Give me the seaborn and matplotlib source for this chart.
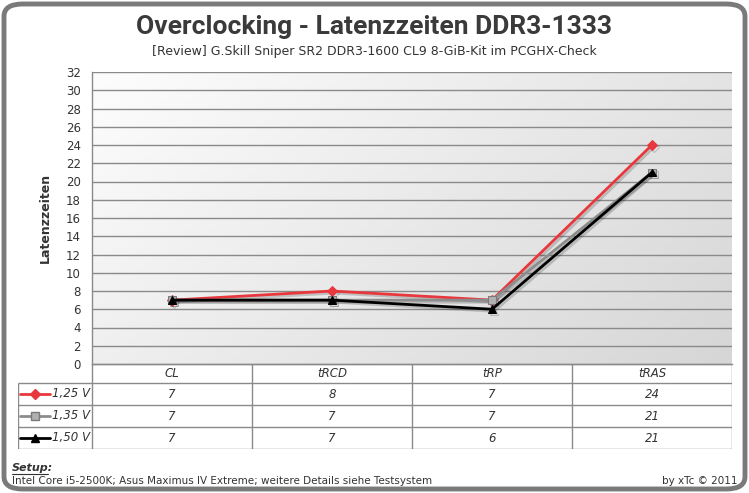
import numpy as np
import pandas as pd
import matplotlib
matplotlib.use("Agg")
import matplotlib.pyplot as plt
import matplotlib.patheffects as pe
from matplotlib.colors import LinearSegmentedColormap
from matplotlib.patches import FancyBboxPatch
import seaborn as sns

# data
timings = ["CL", "tRCD", "tRP", "tRAS"]
voltages = ["1,25 V", "1,35 V", "1,50 V"]
v125 = [7, 8, 7, 24]
v135 = [7, 7, 7, 21]
v150 = [7, 7, 6, 21]
yticks = list(range(0, 33, 2))

colors = {"1,25 V": "#e8383d", "1,35 V": "#8c8c8c", "1,50 V": "#000000"}
markers = {"1,25 V": "D", "1,35 V": "s", "1,50 V": "^"}
mfaces = {"1,25 V": "#e8383d", "1,35 V": "#b0b0b0", "1,50 V": "#000000"}
medges = {"1,25 V": "#e8383d", "1,35 V": "#7a7a7a", "1,50 V": "#000000"}

df = pd.DataFrame({
    "Timing": timings * 3,
    "Spannung": [v for v in voltages for _ in timings],
    "Wert": v125 + v135 + v150,
})

sns.set_theme(style="white")
plt.rcParams["font.family"] = ["DejaVu Sans"]

W, H = 749, 493
fig = plt.figure(figsize=(W / 100, H / 100), dpi=100)
fig.patch.set_facecolor("white")

def fx(px):
    return px / W

def fy(py):
    return 1 - py / H

# rounded outer frame
frame = FancyBboxPatch((fx(4), fy(489)), fx(741), 485 / H,
                       boxstyle="round,pad=0,rounding_size=0.025",
                       transform=fig.transFigure, facecolor="none",
                       edgecolor="#7a7a7a", linewidth=3.5, zorder=5)
fig.patches.append(frame)

# main plot area
ax = fig.add_axes([fx(92), fy(364), fx(640), 292 / H])
ax.set_facecolor("none")

grad_x, grad_y = np.meshgrid(np.linspace(0, 1, 200), np.linspace(0, 1, 200))
grad = 0.65 * grad_x + 0.35 * grad_y
cmap = LinearSegmentedColormap.from_list("bg", ["#fdfdfd", "#d6d6d6"])
ax.imshow(grad, extent=(-0.5, 3.5, 0, 32), origin="upper", aspect="auto",
          cmap=cmap, zorder=0, interpolation="bilinear")

sns.lineplot(data=df, x="Timing", y="Wert", hue="Spannung", style="Spannung",
             palette=colors, markers=markers, dashes=False, sort=False,
             linewidth=2.0, markersize=5.5, legend=False, ax=ax)

for line, v in zip(ax.get_lines(), voltages):
    line.set_markerfacecolor(mfaces[v])
    line.set_markeredgecolor(medges[v])
    line.set_path_effects([pe.SimpleLineShadow(offset=(1.5, -1.5), alpha=0.2),
                           pe.Normal()])

ax.set_xlim(-0.5, 3.5)
ax.set_ylim(0, 32)
ax.set_yticks(yticks)
ax.set_yticklabels([str(t) for t in yticks], fontsize=8.5, color="#333333")
ax.set_xticks([])
ax.tick_params(axis="y", length=0, pad=8)
ax.set_axisbelow(True)
ax.yaxis.grid(True, color="#8a8a8a", linewidth=1.0)
ax.xaxis.grid(False)
for s in ["top", "right"]:
    ax.spines[s].set_visible(False)
for s in ["left", "bottom"]:
    ax.spines[s].set_color("#8a8a8a")
    ax.spines[s].set_linewidth(1.0)
ax.set_xlabel("")
ax.set_ylabel("Latenzzeiten", fontsize=9, fontweight="bold", color="#333333",
              labelpad=10)

# data table under the plot
leg_w = 74 / 160
tab = fig.add_axes([fx(18), fy(449), fx(714), 85 / H])
tab.set_xlim(-0.5 - leg_w, 3.5)
tab.set_ylim(449, 364)
tab.axis("off")
gc = "#8a8a8a"
rows = [364, 383, 405, 427, 449]
tab.hlines(rows[0], -0.5, 3.5, color=gc, lw=1.0)
tab.hlines(rows[1:], -0.5 - leg_w, 3.5, color=gc, lw=1.0)
tab.vlines(-0.5 - leg_w, rows[1], rows[-1], color=gc, lw=1.0)
tab.vlines(np.arange(5) - 0.5, rows[0], rows[-1], color=gc, lw=1.0)

for i, t in enumerate(timings):
    tab.text(i, (rows[0] + rows[1]) / 2, t, ha="center", va="center",
             style="italic", fontsize=8.5, color="#333333")

for r, (v, vals) in enumerate(zip(voltages, [v125, v135, v150])):
    yc = (rows[r + 1] + rows[r + 2]) / 2
    x0 = -0.5 - leg_w
    tab.plot([x0 + 0.01, x0 + 0.2], [yc, yc], color=colors[v], lw=2.0)
    tab.plot([x0 + 0.105], [yc], marker=markers[v], color=mfaces[v],
             markeredgecolor=medges[v], markersize=5.5)
    tab.text(x0 + 0.21, yc, v, ha="left", va="center", style="italic",
             fontsize=8.5, color="#333333")
    for i, val in enumerate(vals):
        tab.text(i, yc, str(val), ha="center", va="center", style="italic",
                 fontsize=8.5, color="#333333")

# titles and footer
fig.text(0.5, fy(27), "Overclocking - Latenzzeiten DDR3-1333", ha="center",
         va="center", fontsize=19, fontweight="bold", color="#3a3a3a",
         family=["Roboto", "DejaVu Sans"])
fig.text(0.5, fy(51), "[Review] G.Skill Sniper SR2 DDR3-1600 CL9 8-GiB-Kit im PCGHX-Check",
         ha="center", va="center", fontsize=9, color="#333333")
fig.text(fx(12), fy(468), "Setup:", ha="left", va="center", fontsize=8,
         fontweight="bold", style="italic", color="#333333")
fig.add_artist(plt.Line2D([fx(12), fx(48)], [fy(474), fy(474)],
                          color="#333333", lw=0.8))
fig.text(fx(12), fy(481), "Intel Core i5-2500K; Asus Maximus IV Extreme; weitere Details siehe Testsystem",
         ha="left", va="center", fontsize=7.5, color="#333333")
fig.text(fx(738), fy(481), "by xTc \u00a9 2011", ha="right", va="center",
         fontsize=7.5, color="#333333")

fig.savefig("out.png", dpi=100)
